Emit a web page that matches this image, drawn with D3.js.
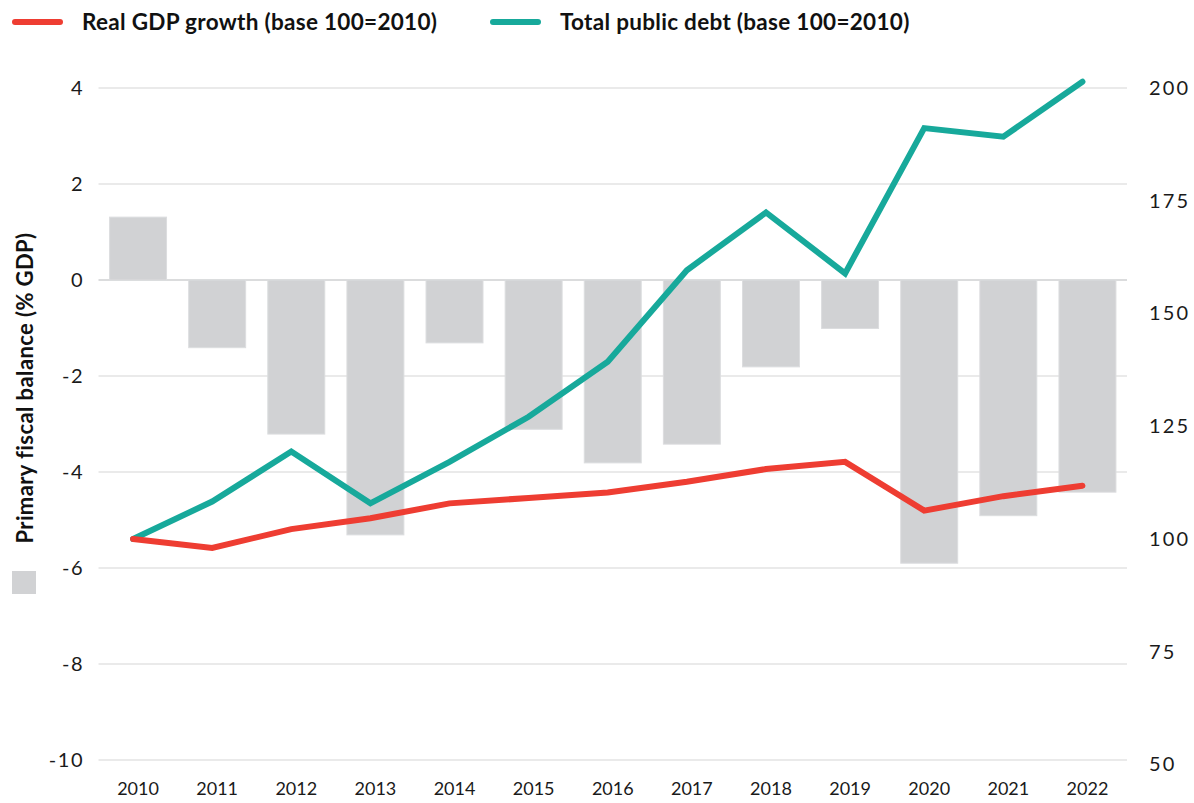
<!DOCTYPE html>
<html>
<head>
<meta charset="utf-8">
<script src="https://cdn.jsdelivr.net/npm/d3@7"></script>
<style>
  html, body { margin: 0; padding: 0; background: #fff; }
  svg { display: block; font-family: Lato, "Open Sans", sans-serif; }
</style>
</head>
<body>
<svg id="chart" width="1194" height="803"></svg>
<script>
// Years on the x axis
const years = [2010, 2011, 2012, 2013, 2014, 2015, 2016, 2017, 2018, 2019, 2020, 2021, 2022];
// Primary fiscal balance, % of GDP (bars, left axis)
const primaryBalance = [1.31, -1.41, -3.21, -5.31, -1.31, -3.11, -3.81, -3.42, -1.81, -1.01, -5.90, -4.91, -4.42];
// Real GDP index, base 100 = 2010 (right axis)
const realGdp = [100, 98.0, 102.2, 104.6, 107.9, 109.1, 110.3, 112.7, 115.5, 117.1, 106.3, 109.5, 111.8];
// Total public debt index, base 100 = 2010 (right axis)
const publicDebt = [100, 108.3, 119.4, 107.9, 117.1, 127.1, 139.3, 159.6, 172.4, 158.9, 191.1, 189.2, 201.4];
// Axis ticks
const leftTicks = [4, 2, 0, -2, -4, -6, -8, -10];
const rightTicks = [200, 175, 150, 125, 100, 75, 50];

const legendItems = [
  { label: "Real GDP growth (base 100=2010)", color: "#ee3d32" },
  { label: "Total public debt (base 100=2010)", color: "#17a99b" }
];

const svg = d3.select("#chart");
const plotLeft = 98.5, plotRight = 1127;
const barColor = "#d1d2d4";

const x = d3.scaleBand().domain(years).range([plotLeft, plotRight])
  .paddingInner(0.28).paddingOuter(0.14);
// Lines sit slightly left of the bar centres
const xLine = d3.scalePoint().domain(years)
  .range([x(2010) + x.bandwidth() / 2 - 5, x(2022) + x.bandwidth() / 2 - 5]);

const yLeft = d3.scaleLinear().domain([-10, 4]).range([760, 88]);
const yRight = d3.scaleLinear().domain([50, 200]).range([764.5, 88]);

// Gridlines
svg.append("g")
  .selectAll("line")
  .data(leftTicks)
  .join("line")
  .attr("x1", plotLeft).attr("x2", plotRight)
  .attr("y1", d => yLeft(d)).attr("y2", d => yLeft(d))
  .attr("stroke", d => d === 0 ? "#cfd0d2" : "#e3e3e3")
  .attr("stroke-width", 1.5);

// Left axis
const leftAxis = d3.axisLeft(yLeft).tickValues(leftTicks)
  .tickSize(0).tickPadding(0)
  .tickFormat(d => d < 0 ? "-" + Math.abs(d) : String(d));
const gl = svg.append("g").attr("transform", "translate(84,0)").call(leftAxis);
gl.select(".domain").remove();
gl.selectAll("text")
  .attr("font-size", 20).attr("fill", "#1a1a1a")
  .attr("font-family", "Lato, sans-serif")
  .attr("letter-spacing", 1.5);

// Right axis
const rightAxis = d3.axisRight(yRight).tickValues(rightTicks).tickSize(0).tickPadding(0);
const gr = svg.append("g").attr("transform", "translate(1149,0)").call(rightAxis);
gr.select(".domain").remove();
gr.selectAll("text")
  .attr("font-size", 20).attr("fill", "#1a1a1a")
  .attr("font-family", "Lato, sans-serif")
  .attr("letter-spacing", 2.2);

// Bottom axis
const bottomAxis = d3.axisBottom(x).tickSize(0).tickPadding(0);
const gb = svg.append("g").attr("transform", "translate(0,782)").call(bottomAxis);
gb.select(".domain").remove();
gb.selectAll("text")
  .attr("font-size", 18).attr("fill", "#1a1a1a")
  .attr("font-family", "Lato, sans-serif")
  .attr("dy", "0.71em");

// Bars
svg.append("g")
  .selectAll("rect")
  .data(years.map((yr, i) => ({ yr, v: primaryBalance[i] })))
  .join("rect")
  .attr("x", d => x(d.yr))
  .attr("width", x.bandwidth())
  .attr("y", d => Math.min(yLeft(d.v), yLeft(0)))
  .attr("height", d => Math.abs(yLeft(d.v) - yLeft(0)))
  .attr("fill", barColor)
  .attr("stroke", "#dcdddf")
  .attr("stroke-width", 1);

// Lines
const line = d3.line().x((d, i) => xLine(years[i])).y(d => yRight(d));
svg.append("path").datum(publicDebt)
  .attr("d", line).attr("fill", "none")
  .attr("stroke", legendItems[1].color).attr("stroke-width", 6)
  .attr("stroke-linecap", "round").attr("stroke-linejoin", "miter");
svg.append("path").datum(realGdp)
  .attr("d", line).attr("fill", "none")
  .attr("stroke", legendItems[0].color).attr("stroke-width", 6)
  .attr("stroke-linecap", "round").attr("stroke-linejoin", "miter");

// Legend
const legendX = [12, 490];
const lg = svg.append("g");
legendItems.forEach((item, i) => {
  lg.append("line")
    .attr("x1", legendX[i] + 3).attr("x2", legendX[i] + 48)
    .attr("y1", 22).attr("y2", 22)
    .attr("stroke", item.color).attr("stroke-width", 6)
    .attr("stroke-linecap", "round");
  lg.append("text")
    .attr("x", legendX[i] + 70).attr("y", 30)
    .attr("font-size", 22.5).attr("font-weight", 700)
    .attr("fill", "#111")
    .attr("font-family", "Lato, sans-serif")
    .attr("letter-spacing", 0.3)
    .text(item.label);
});

// Y axis title
svg.append("text")
  .attr("transform", "translate(33,388) rotate(-90)")
  .attr("text-anchor", "middle")
  .attr("font-size", 22).attr("font-weight", 700)
  .attr("fill", "#111")
  .attr("font-family", "Lato, sans-serif")
  .attr("letter-spacing", 0.4)
  .text("Primary fiscal balance (% GDP)");

// Bar swatch under the title
svg.append("rect")
  .attr("x", 12).attr("y", 571).attr("width", 24).attr("height", 23)
  .attr("fill", barColor);
</script>
</body>
</html>
